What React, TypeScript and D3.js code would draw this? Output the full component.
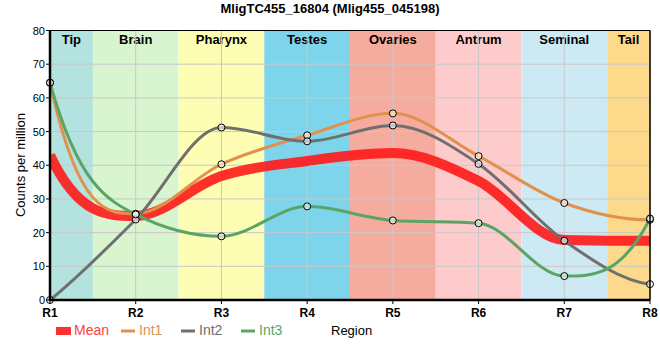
import React from "react";
import * as d3 from "d3";

const regions = ["R1", "R2", "R3", "R4", "R5", "R6", "R7", "R8"];
const int1 = [64.5, 25.6, 40.3, 48.9, 55.4, 42.7, 28.8, 23.8];
const int2 = [0, 23.9, 51.2, 47.1, 51.8, 40.4, 17.6, 4.7];
const int3 = [64.5, 25.4, 18.9, 27.8, 23.6, 22.8, 7.1, 24.2];
const mean = int1.map((v, i) => (v + int2[i] + int3[i]) / 3);
const yTicks = [0, 10, 20, 30, 40, 50, 60, 70, 80];
const bands = ["Tip", "Brain", "Pharynx", "Testes", "Ovaries", "Antrum", "Seminal", "Tail"];
const bandColors = ["#b4e3df", "#d8f5d0", "#fdfdb4", "#7ed5eb", "#f5ab9e", "#fdcbcb", "#cdeaf4", "#fdda8b"];

const series = [
  { name: "Int1", values: int1, color: "#e0914e" },
  { name: "Int2", values: int2, color: "#6f6f6f" },
  { name: "Int3", values: int3, color: "#5aa566" },
];

// monotone tangents (Steffen) for interior nodes, steeper end conditions
function tangents(v: number[]): number[] {
  const n = v.length;
  const s = d3.range(n - 1).map((i) => v[i + 1] - v[i]);
  const m = new Array(n).fill(0);
  for (let i = 1; i < n - 1; i++) {
    const s0 = s[i - 1], s1 = s[i];
    const p = (s0 + s1) / 2;
    m[i] = (Math.sign(s0) + Math.sign(s1)) * Math.min(Math.abs(s0), Math.abs(s1), 0.5 * Math.abs(p)) || 0;
  }
  const endSlope = (sv: number, adj: number) => {
    let e = 3 * sv - 2 * adj;
    if (Math.sign(e) !== Math.sign(sv)) e = 0;
    if (Math.abs(e) > 3 * Math.abs(sv)) e = 3 * sv;
    return e;
  };
  m[0] = endSlope(s[0], m[1]);
  m[n - 1] = endSlope(s[n - 2], m[n - 2]);
  return m;
}

export default function App() {
  const W = 660, H = 360;
  const x0 = 50, x1 = 650, y0 = 300, y1 = 30.5;
  const x = d3.scaleLinear().domain([0, regions.length - 1]).range([x0, x1]);
  const y = d3.scaleLinear().domain([0, 80]).range([y0, y1]);
  const line = (vals: number[]) => {
    const m = tangents(vals);
    const p = d3.path();
    p.moveTo(x(0), y(vals[0]));
    for (let i = 0; i < vals.length - 1; i++) {
      p.bezierCurveTo(
        x(i + 1 / 3), y(vals[i] + m[i] / 3),
        x(i + 2 / 3), y(vals[i + 1] - m[i + 1] / 3),
        x(i + 1), y(vals[i + 1])
      );
    }
    return p.toString();
  };
  const font = "Liberation Sans, Arial, sans-serif";

  return (
    <svg width={W} height={H} style={{ position: "absolute", left: 0, top: 0, fontFamily: font }}>
      <defs>
        <clipPath id="plot">
          <rect x={x0} y={y1} width={x1 - x0} height={y0 - y1} />
        </clipPath>
      </defs>
      <rect x={0} y={0} width={W} height={H} fill="#fff" />
      <text x={330} y={13} textAnchor="middle" fontWeight="bold" fontSize={13}>
        MligTC455_16804 (Mlig455_045198)
      </text>
      {bands.map((b, i) => {
        const a = Math.max(x0, x(i - 0.5));
        const c = Math.min(x1, x(i + 0.5));
        return (
          <g key={b}>
            <rect x={a} y={y1} width={c - a} height={y0 - y1} fill={bandColors[i]} />
            <text x={(a + c) / 2} y={43.5} textAnchor="middle" fontWeight="bold" fontSize={13}>
              {b}
            </text>
          </g>
        );
      })}
      {yTicks.map((t) => (
        <line key={"h" + t} x1={x0} x2={x1} y1={y(t)} y2={y(t)} stroke="#c8c8c8" strokeWidth={1} />
      ))}
      {regions.map((r, i) => (
        <line key={"v" + r} x1={x(i)} x2={x(i)} y1={y1} y2={y0} stroke="#c8c8c8" strokeWidth={1} />
      ))}
      <g clipPath="url(#plot)">
        <path d={line(mean)} fill="none" stroke="#ff1a1a" strokeOpacity={0.9} strokeWidth={10} />
        {series.map((s) => (
          <path key={s.name} d={line(s.values)} fill="none" stroke={s.color} strokeWidth={3} />
        ))}
      </g>
      {series.map((s) =>
        s.values.map((v, i) => (
          <circle key={s.name + i} cx={x(i)} cy={y(v)} r={3.5} fill="#fff" fillOpacity={0.6} stroke="#000" strokeWidth={1} />
        ))
      )}
      <line x1={x0} x2={x1} y1={y1} y2={y1} stroke="#000" strokeWidth={1} />
      <line x1={x1} x2={x1} y1={y1} y2={y0} stroke="#000" strokeWidth={1.5} />
      <line x1={x0} x2={x0} y1={y1} y2={y0 + 1} stroke="#000" strokeWidth={2.5} />
      <line x1={x0 - 1} x2={x1} y1={y0} y2={y0} stroke="#000" strokeWidth={2.5} />
      {yTicks.map((t) => (
        <g key={"yt" + t}>
          <line x1={x0 - 4} x2={x0} y1={y(t)} y2={y(t)} stroke="#000" />
          <text x={x0 - 5} y={y(t) + 4} textAnchor="end" fontSize={11}>
            {t}
          </text>
        </g>
      ))}
      {regions.map((r, i) => (
        <g key={"xt" + r}>
          <line x1={x(i)} x2={x(i)} y1={y0} y2={y0 + 4} stroke="#000" />
          <text x={x(i)} y={317} textAnchor="middle" fontSize={12} fontWeight="bold">
            {r}
          </text>
        </g>
      ))}
      <text transform="translate(25,165) rotate(-90)" textAnchor="middle" fontSize={13}>
        Counts per million
      </text>
      <text x={331} y={335} fontSize={13}>
        Region
      </text>
      <rect x={56} y={327} width={15} height={8} fill="#ff1a1a" fillOpacity={0.9} />
      <text x={74} y={335} fontSize={14} fill="#ff4040">
        Mean
      </text>
      {series.map((s, k) => {
        const lx = 121 + k * 60;
        return (
          <g key={"lg" + s.name}>
            <line x1={lx} x2={lx + 14} y1={331} y2={331} stroke={s.color} strokeWidth={3} />
            <text x={lx + 18} y={335} fontSize={14} fill={s.color}>
              {s.name}
            </text>
          </g>
        );
      })}
    </svg>
  );
}
